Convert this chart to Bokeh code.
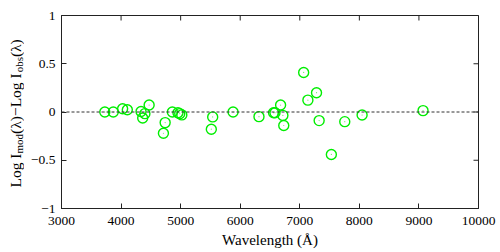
import math
from bokeh.plotting import figure
from bokeh.layouts import row
from bokeh.models import Range1d, FixedTicker, Span, Label
from bokeh.embed import file_html
from bokeh.resources import INLINE

# ---- data ----
wavelength = [3727, 3869, 4026, 4105, 4335, 4363, 4400, 4471, 4711, 4740,
              4861, 4955, 4985, 5020, 5515, 5538, 5880, 6315, 6560, 6584,
              6678, 6716, 6731, 7065, 7136, 7281, 7325, 7530, 7755, 8046, 9069]
residual = [0.0, 0.0, 0.034, 0.024, 0.005, -0.062, -0.017, 0.072, -0.22, -0.11,
            0.0, -0.007, -0.017, -0.03, -0.178, -0.051, 0.0, -0.048, -0.007, -0.007,
            0.072, -0.035, -0.14, 0.41, 0.123, 0.2, -0.089, -0.44, -0.1, -0.031, 0.014]

x_ticks = [3000, 4000, 5000, 6000, 7000, 8000, 9000, 10000]
y_ticks = [-1, -0.5, 0, 0.5, 1]
y_tick_labels = {-1: "\u22121", -0.5: "\u22120.5", 0: "0", 0.5: "0.5", 1: "1"}
x_min, x_max = 3000, 10000
y_min, y_max = -1, 1

FONT = "Liberation Serif"
GREEN = "#00ee00"
INK = "#222222"
H = 250
LW = 24  # width of the strip holding the rotated y label

# ---- main plot ----
p = figure(width=500 - LW, height=H, output_backend="svg", toolbar_location=None,
           x_range=Range1d(x_min, x_max), y_range=Range1d(y_min, y_max),
           min_border_left=37, min_border_right=22, min_border_top=15,
           min_border_bottom=41)
p.xgrid.visible = False
p.ygrid.visible = False
p.outline_line_color = INK
p.outline_line_width = 1
p.background_fill_color = "white"
p.border_fill_color = "white"

def style_axis(ax, standoff):
    ax.axis_line_color = INK
    ax.major_tick_line_color = INK
    ax.major_tick_in = 5
    ax.major_tick_out = 0
    ax.minor_tick_line_color = None
    ax.major_label_text_font = FONT
    ax.major_label_text_color = "black"
    ax.major_label_text_font_size = "13.5px"
    ax.major_label_standoff = standoff

xa = p.xaxis[0]
xa.ticker = FixedTicker(ticks=x_ticks)
style_axis(xa, 8)
xa.axis_label = "Wavelength (\u00c5)"
xa.axis_label_text_font = FONT
xa.axis_label_text_font_style = "normal"
xa.axis_label_text_font_size = "15px"
xa.axis_label_text_color = "black"
xa.axis_label_standoff = 4

ya = p.yaxis[0]
ya.ticker = FixedTicker(ticks=y_ticks)
ya.major_label_overrides = y_tick_labels
style_axis(ya, 6)

# mirrored inward ticks on the top and right edges (dash markers centred on
# the frame edge; the outer half is clipped by the frame)
p.scatter(x_ticks, [y_max] * len(x_ticks), marker="dash", angle=math.pi / 2,
          size=10, line_color=INK, line_width=1)
p.scatter([x_max] * len(y_ticks), y_ticks, marker="dash", size=10,
          line_color=INK, line_width=1)

# zero reference line
p.add_layout(Span(location=0, dimension="width", line_color="#333333",
                  line_width=1, line_dash="3 2"))

# data points
p.scatter(wavelength, residual, marker="circle", size=10, fill_color=None,
          line_color=GREEN, line_width=1.4)
p.scatter(wavelength, residual, marker="circle", size=1.2, fill_color=GREEN,
          line_color=None, fill_alpha=0.6)

# ---- strip with the rotated y-axis title (with subscripts) ----
# (its frame is aligned with the main plot's frame by the row layout)
lab = figure(width=LW, height=H, output_backend="svg", toolbar_location=None,
             x_axis_location=None, y_axis_location=None,
             x_range=Range1d(0, 1), y_range=Range1d(0, 1),
             min_border=0, min_border_left=0, min_border_right=0,
             min_border_top=0, min_border_bottom=0)
lab.xgrid.visible = False
lab.ygrid.visible = False
lab.outline_line_color = None
lab.background_fill_color = "white"
lab.border_fill_color = "white"

parts = [("Log I", False, 2.194), ("mod", True, 1.778), ("(\u03bb)\u2212Log I", False, 3.973),
         ("obs", True, 1.389), ("(\u03bb)", False, 1.215)]
main_fs, sub_fs = 15.5, 11.0
ypos = 21.0
for txt, sub, em in parts:
    fs = sub_fs if sub else main_fs
    lab.add_layout(Label(x=18.5 if sub else 15.0, y=ypos, x_units="screen", y_units="screen",
                         text=txt, angle=math.pi / 2, text_font=FONT,
                         text_font_size=f"{fs}px", text_color="black",
                         text_align="left", text_baseline="alphabetic"))
    ypos += em * fs

layout = row(lab, p, spacing=0)
open("out.html", "w").write(file_html(layout, INLINE))
